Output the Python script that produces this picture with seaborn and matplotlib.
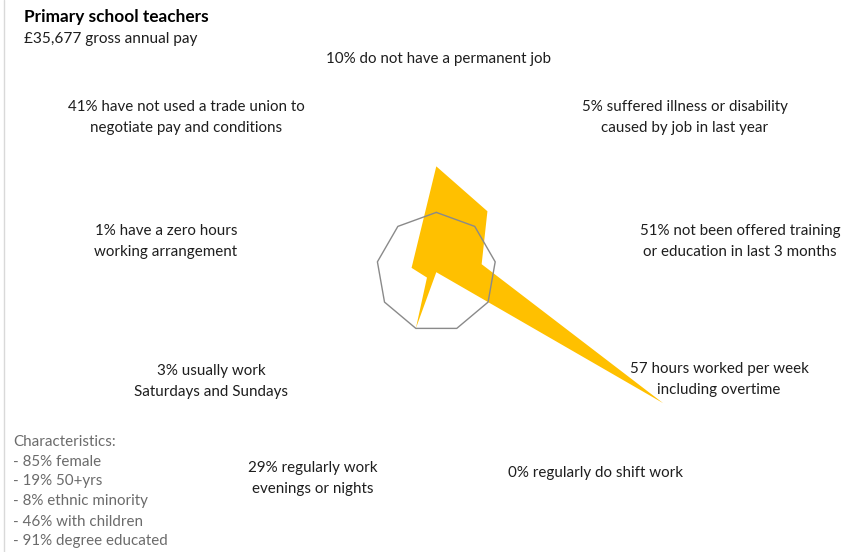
import numpy as np
import matplotlib
matplotlib.use("Agg")
import matplotlib.pyplot as plt
from matplotlib.lines import Line2D
import seaborn as sns

# Spoke labels, clockwise from the top
categories = [
    "10% do not have a permanent job",
    "5% suffered illness or disability\ncaused by job in last year",
    "51% not been offered training\nor education in last 3 months",
    "57 hours worked per week\nincluding overtime",
    "0% regularly do shift work",
    "29% regularly work\nevenings or nights",
    "3% usually work\nSaturdays and Sundays",
    "1% have a zero hours\nworking arrangement",
    "41% have not used a trade union to\nnegotiate pay and conditions",
]
# Occupation relative to the all-workers average (average = 1)
occupation_ratio = [1.77, 1.33, 0.77, 4.38, 0.0, 1.0, 0.18, 0.42, 0.52]
average_ratio = [1.0] * 9

title = "Primary school teachers"
subtitle = "£35,677 gross annual pay"
characteristics = [
    "Characteristics:",
    "- 85% female",
    "- 19% 50+yrs",
    "- 8% ethnic minority",
    "- 46% with children",
    "- 91% degree educated",
]

sns.set_theme(style="white")
plt.rcParams["font.family"] = ["Lato", "DejaVu Sans"]

W, H = 845, 552
fig = plt.figure(figsize=(W / 100, H / 100), dpi=100)
fig.patch.set_facecolor("white")


def fx(px):
    return px / W


def fy(py):
    return 1 - py / H


# polar axes centred on the chart middle
cx, cy = 436.3, 272.2
rmax = 4.5
unit_px = 59.8
rad_px = rmax * unit_px
ax = fig.add_axes([fx(cx - rad_px), fy(cy + rad_px), 2 * rad_px / W, 2 * rad_px / H],
                  projection="polar")
ax.set_theta_zero_location("N")
ax.set_theta_direction(-1)
ax.set_ylim(0, rmax)
ax.grid(False)
ax.set_xticks([])
ax.set_yticks([])
ax.spines["polar"].set_visible(False)
ax.set_facecolor("none")

n = len(categories)
angles = np.linspace(0, 2 * np.pi, n, endpoint=False)
ang_closed = np.append(angles, angles[0])
occ_closed = np.append(occupation_ratio, occupation_ratio[0])
avg_closed = np.append(average_ratio, average_ratio[0])

ax.fill(ang_closed, occ_closed, color="#FFC000", linewidth=0, zorder=2)
ax.plot(ang_closed, avg_closed, color="#8a8a8a", linewidth=1.0, zorder=3)

# spoke labels
label_pos = [
    (439, 58.5), (685, 117.5), (740, 241.5), (719, 379.5), (595, 473.5),
    (313, 478.5), (211, 381.5), (166, 241.5), (186, 117.5),
]
for text, (px, py) in zip(categories, label_pos):
    fig.text(fx(px), fy(py), text, ha="center", va="center", fontsize=10.9,
             color="#1e1e1e", linespacing=1.66, multialignment="center")

fig.text(fx(24), fy(17), title, ha="left", va="center", fontsize=12.4,
         fontweight="bold", color="#000000")
fig.text(fx(24), fy(39.5), subtitle, ha="left", va="center", fontsize=11.1,
         color="#1e1e1e")
for i, line in enumerate(characteristics):
    fig.text(fx(13), fy(441.5 + 20 * i), line, ha="left", va="center",
             fontsize=10.9, color="#6b6b6b")

# thin frame edge on the left
fig.add_artist(Line2D([fx(4.5), fx(4.5)], [0, 1], color="#d9d9d9",
                      linewidth=1.0, transform=fig.transFigure))

fig.savefig("out.png", dpi=100, facecolor="white")
